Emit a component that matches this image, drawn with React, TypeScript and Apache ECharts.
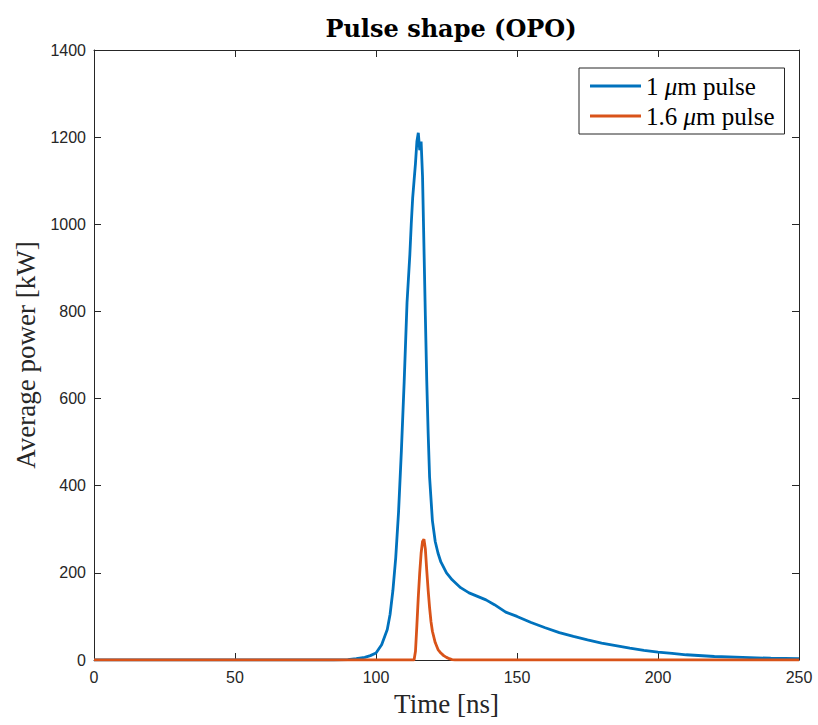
import React, { useEffect, useRef } from "react";
import * as echarts from "echarts";

const blueTime = [0, 85, 90, 93, 96, 98, 100, 102, 104, 105, 106, 107, 108, 109, 110, 111, 112, 112.5, 113, 113.5, 114, 114.5, 115, 115.5, 116, 116.5, 117, 117.5, 118, 118.5, 119, 120, 121, 122, 123, 125, 127, 130, 133, 136, 139, 142, 146, 150, 155, 160, 165, 170, 175, 180, 185, 190, 195, 200, 205, 210, 220, 230, 240, 250];
const bluePower = [0, 0, 1, 3, 6, 10, 16, 35, 70, 105, 160, 235, 340, 480, 640, 820, 930, 1000, 1060, 1100, 1140, 1190, 1210, 1170, 1190, 1110, 950, 790, 640, 520, 420, 320, 272, 245, 225, 200, 184, 166, 154, 146, 138, 127, 110, 100, 86, 74, 63, 54, 46, 39, 33, 27, 22, 18, 15, 12, 8, 6, 4, 3];

const orangeTime = [0, 113.5, 114, 114.5, 115, 115.5, 116, 116.5, 117, 117.5, 118, 118.5, 119, 119.5, 120, 121, 122, 123, 124, 125, 126, 127, 128, 250];
const orangePower = [0, 0, 20, 80, 145, 200, 245, 272, 277, 255, 205, 160, 120, 88, 66, 40, 24, 16, 10, 6, 3, 1, 0, 0];

const xTicks = { min: 0, max: 250, interval: 50 };
const yTicks = { min: 0, max: 1400, interval: 200 };

const seriesNames = ["1 μm pulse", "1.6 μm pulse"];
const legendLabels = ["{n|1 }{i|μ}{n|m pulse}", "{n|1.6 }{i|μ}{n|m pulse}"];

const AX = "#262626";

export default function App() {
  const ref = useRef<HTMLDivElement>(null);
  useEffect(() => {
    if (!ref.current) return;
    const chart = echarts.init(ref.current, undefined, { renderer: "svg" });
    const axisCommon = {
      axisLine: { show: true, onZero: false, lineStyle: { color: AX, width: 1 } },
      axisTick: { show: true, inside: true, length: 7, lineStyle: { color: AX, width: 1 } },
      splitLine: { show: false },
    };
    const labelStyle = {
      color: AX,
      fontSize: 16,
      fontFamily: "Liberation Sans, Arial, sans-serif",
      formatter: (v: number) => String(v),
    };
    chart.setOption({
      animation: false,
      backgroundColor: "#ffffff",
      title: {
        text: "Pulse shape (OPO)",
        left: 446,
        textAlign: "center",
        top: 11,
        textStyle: { fontFamily: "DejaVu Serif", fontWeight: "bold", fontSize: 24, color: "#000" },
      },
      grid: { left: 94, right: 19, top: 50, bottom: 65 },
      legend: {
        orient: "vertical",
        left: 579,
        top: 68,
        data: seriesNames.map((n) => ({ name: n, icon: "rect" })),
        itemWidth: 51,
        itemHeight: 3,
        itemGap: 4,
        padding: [5, 10, 5, 11],
        borderColor: AX,
        borderWidth: 1,
        backgroundColor: "#fff",
        formatter: (name: string) => legendLabels[seriesNames.indexOf(name)],
        textStyle: {
          lineHeight: 26,
          rich: {
            n: { fontFamily: "Liberation Serif", fontSize: 25, color: "#000", lineHeight: 26 },
            i: { fontFamily: "Liberation Serif", fontSize: 25, fontStyle: "italic", color: "#000", lineHeight: 26 },
          },
        },
      },
      xAxis: [
        {
          type: "value",
          position: "bottom",
          ...xTicks,
          ...axisCommon,
          axisLabel: { ...labelStyle, margin: 9 },
          name: "Time [ns]",
          nameLocation: "middle",
          nameGap: 30,
          nameTextStyle: { fontFamily: "Liberation Serif", fontSize: 27, color: AX, verticalAlign: "top" },
        },
        {
          type: "value",
          position: "top",
          ...xTicks,
          ...axisCommon,
          axisLabel: { show: false },
        },
      ],
      yAxis: [
        {
          type: "value",
          position: "left",
          ...yTicks,
          ...axisCommon,
          axisLabel: { ...labelStyle, margin: 8 },
          name: "Average power [kW]",
          nameLocation: "middle",
          nameGap: 54,
          nameTextStyle: { fontFamily: "Liberation Serif", fontSize: 27, color: AX },
        },
        {
          type: "value",
          position: "right",
          ...yTicks,
          ...axisCommon,
          axisLabel: { show: false },
        },
      ],
      series: [
        {
          name: seriesNames[0],
          type: "line",
          data: blueTime.map((t, i) => [t, bluePower[i]]),
          showSymbol: false,
          symbol: "none",
          lineStyle: { color: "#0072BD", width: 2.8 },
          itemStyle: { color: "#0072BD" },
          z: 2,
        },
        {
          name: seriesNames[1],
          type: "line",
          data: orangeTime.map((t, i) => [t, orangePower[i]]),
          showSymbol: false,
          symbol: "none",
          lineStyle: { color: "#D95319", width: 2.8 },
          itemStyle: { color: "#D95319" },
          z: 3,
        },
      ],
    });
    return () => chart.dispose();
  }, []);
  return <div ref={ref} style={{ position: "absolute", left: 0, top: 0, width: 818, height: 725 }} />;
}
